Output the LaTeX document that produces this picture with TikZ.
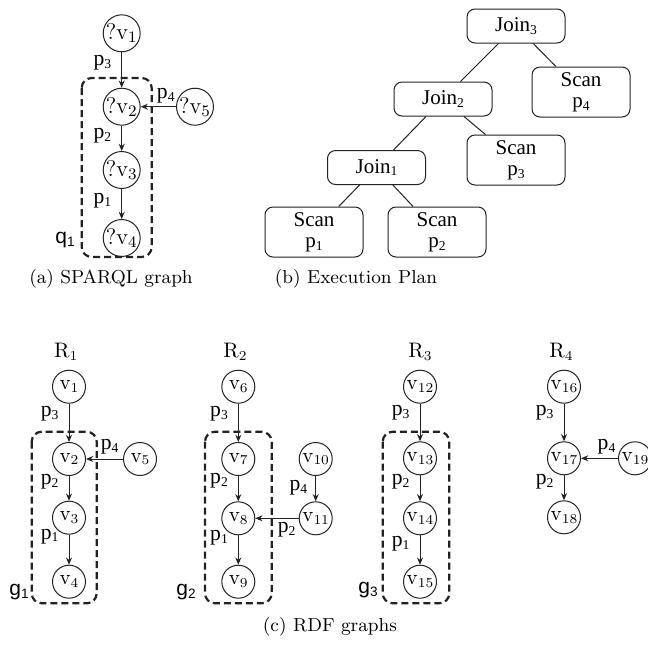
\documentclass[tikz,border=0pt]{standalone}
\usepackage{fontspec}
\newfontfamily\timesfont{Liberation Serif}
\newfontfamily\arialfont{Liberation Sans}
\usetikzlibrary{
  arrows.meta,
  positioning
}
\definecolor{ink}{HTML}{222222}
\newcommand{\idx}[1]{\raisebox{-0.3ex}{\fontsize{6.8pt}{6.8pt}\selectfont #1}}
\tikzset{
  vertex/.style={
    circle,
    draw=ink,
    line width=0.5pt,
    minimum size=16.5pt,
    inner sep=0pt,
    font=\fontsize{10.5}{10.5}\selectfont
  },
  qvertex/.style={
    vertex,
    font=\fontsize{11.3}{11.3}\selectfont
  },
  rel/.style={
    -{Stealth[length=3.6pt,width=3pt]},
    draw=ink,
    line width=0.5pt
  },
  plabel/.style={
    font=\timesfont\fontsize{10.8}{10.8}\selectfont,
    inner sep=1pt
  },
  opbox/.style={
    draw=ink,
    line width=0.5pt,
    rounded corners=4pt,
    minimum width=49pt,
    inner sep=1.5pt,
    align=center,
    font=\timesfont\fontsize{10.5}{10.5}\selectfont
  },
  joinbox/.style={
    opbox,
    minimum height=17pt
  },
  scanbox/.style={
    opbox,
    minimum height=25pt
  },
  planedge/.style={
    draw=ink,
    line width=0.5pt
  },
  matchbox/.style={
    draw=ink,
    line width=1.1pt,
    dash pattern=on 3.5pt off 2pt,
    rounded corners=5pt
  },
  matchname/.style={
    font=\arialfont\fontsize{10.5}{10.5}\selectfont,
    inner sep=0pt
  },
  rdfname/.style={
    font=\fontsize{10.5}{10.5}\selectfont,
    inner sep=0pt
  },
  subcap/.style={
    font=\fontsize{9.4}{9.4}\selectfont,
    inner sep=0pt
  }
}

\begin{document}
\begin{tikzpicture}[x=0.5pt,y=-0.5pt]
  \useasboundingbox (0,0) rectangle (648,644);

  % (a) SPARQL query graph.
  \node[qvertex] (qv1) at (121.7,33.3) {?v$_1$};
  \node[qvertex] (qv2) at (121.7,106.7) {?v$_2$};
  \node[qvertex] (qv3) at (121.7,170) {?v$_3$};
  \node[qvertex] (qv4) at (121.7,238) {?v$_4$};
  \node[qvertex] (qv5) at (195,106.7) {?v$_5$};
  \draw[matchbox] (81.7,78) rectangle (151.7,257);
  \node[matchname] (q1) at (65,240) {q\idx{1}};
  \draw[rel] (qv1) -- node[plabel, pos=0.3, left=4pt] {p\idx{3}} (qv2);
  \draw[rel] (qv2) -- node[plabel, pos=0.39, left=4pt] {p\idx{2}} (qv3);
  \draw[rel] (qv3) -- node[plabel, pos=0.39, left=4pt] {p\idx{1}} (qv4);
  \draw[rel] (qv5) -- node[plabel, pos=0.29, above=0.5pt] {p\idx{4}} (qv2);

  % (b) Execution plan.
  \node[joinbox] (join3) at (516,26) {Join\idx{3}};
  \node[joinbox] (join2) at (443,99) {Join\idx{2}};
  \node[joinbox] (join1) at (376.5,167.5) {Join\idx{1}};
  \node[scanbox] (scan4) at (581,92) {Scan\\p\idx{4}};
  \node[scanbox] (scan3) at (516,160) {Scan\\p\idx{3}};
  \node[scanbox] (scan1) at (314,232) {Scan\\p\idx{1}};
  \node[scanbox] (scan2) at (437,232) {Scan\\p\idx{2}};
  \draw[planedge] (join3) -- (join2);
  \draw[planedge] (join3) -- (scan4);
  \draw[planedge] (join2) -- (join1);
  \draw[planedge] (join2) -- (scan3);
  \draw[planedge] (join1) -- (scan1);
  \draw[planedge] (join1) -- (scan2);

  % Captions of the upper row.
  \node[subcap] (capa) at (111,279) {(a) SPARQL graph};
  \node[subcap] (capb) at (356,279) {(b) Execution Plan};

  % (c) RDF graph R1.
  \node[rdfname] (r1) at (65.7,352) {R\idx{1}};
  \node[vertex] (v1) at (69,386.7) {v\idx{1}};
  \node[vertex] (v2) at (69,459) {v\idx{2}};
  \node[vertex] (v3) at (69,517.7) {v\idx{3}};
  \node[vertex] (v4) at (69,581.7) {v\idx{4}};
  \node[vertex] (v5) at (140,459) {v\idx{5}};
  \draw[matchbox] (31.7,431.7) rectangle (96.7,603.3);
  \node[matchname] (g1) at (19,592) {g\idx{1}};
  \draw[rel] (v1) -- node[plabel, pos=0.25, left=4pt] {p\idx{3}} (v2);
  \draw[rel] (v2) -- node[plabel, pos=0.24, left=4pt] {p\idx{2}} (v3);
  \draw[rel] (v3) -- node[plabel, pos=0.05, left=4pt] {p\idx{1}} (v4);
  \draw[rel] (v5) -- node[plabel, pos=0.36, above=1pt] {p\idx{4}} (v2);

  % RDF graph R2.
  \node[rdfname] (r2) at (235,352) {R\idx{2}};
  \node[vertex] (v6) at (238.3,386.7) {v\idx{6}};
  \node[vertex] (v7) at (238.3,459) {v\idx{7}};
  \node[vertex] (v8) at (238.3,518.3) {v\idx{8}};
  \node[vertex] (v9) at (238.3,581.7) {v\idx{9}};
  \node[vertex] (v10) at (315.7,459) {v\idx{10}};
  \node[vertex] (v11) at (315.7,518.3) {v\idx{11}};
  \draw[matchbox] (205,431.7) rectangle (271.7,603.3);
  \node[matchname] (g2) at (186,592) {g\idx{2}};
  \draw[rel] (v6) -- node[plabel, pos=0.25, left=4pt] {p\idx{3}} (v7);
  \draw[rel] (v7) -- node[plabel, pos=0.17, left=4pt] {p\idx{2}} (v8);
  \draw[rel] (v8) -- node[plabel, pos=0.07, left=4pt] {p\idx{1}} (v9);
  \draw[rel] (v10) -- node[plabel, pos=0.48, left=3pt] {p\idx{4}} (v11);
  \draw[rel] (v11) -- node[plabel, pos=0.28, below=1pt] {p\idx{2}} (v8);

  % RDF graph R3.
  \node[rdfname] (r3) at (420,352) {R\idx{3}};
  \node[vertex] (v12) at (420,386.7) {v\idx{12}};
  \node[vertex] (v13) at (420,458.3) {v\idx{13}};
  \node[vertex] (v14) at (420,518.3) {v\idx{14}};
  \node[vertex] (v15) at (420,581.7) {v\idx{15}};
  \draw[matchbox] (382.7,431.7) rectangle (449.3,603.3);
  \node[matchname] (g3) at (368,590) {g\idx{3}};
  \draw[rel] (v12) -- node[plabel, pos=0.25, left=4pt] {p\idx{3}} (v13);
  \draw[rel] (v13) -- node[plabel, pos=0.26, left=4pt] {p\idx{2}} (v14);
  \draw[rel] (v14) -- node[plabel, pos=0.27, left=4pt] {p\idx{1}} (v15);

  % RDF graph R4.
  \node[rdfname] (r4) at (561,352) {R\idx{4}};
  \node[vertex] (v16) at (564,386.7) {v\idx{16}};
  \node[vertex] (v17) at (564,458.3) {v\idx{17}};
  \node[vertex] (v18) at (564,517.3) {v\idx{18}};
  \node[vertex] (v19) at (635,458.3) {v\idx{19}};
  \draw[rel] (v16) -- node[plabel, pos=0.25, left=4pt] {p\idx{3}} (v17);
  \draw[rel] (v17) -- node[plabel, pos=0.27, left=4pt] {p\idx{2}} (v18);
  \draw[rel] (v19) -- node[plabel, pos=0.31, above=1pt] {p\idx{4}} (v17);

  % Caption of the lower row.
  \node[subcap] (capc) at (330,627) {(c) RDF graphs};
\end{tikzpicture}
\end{document}
